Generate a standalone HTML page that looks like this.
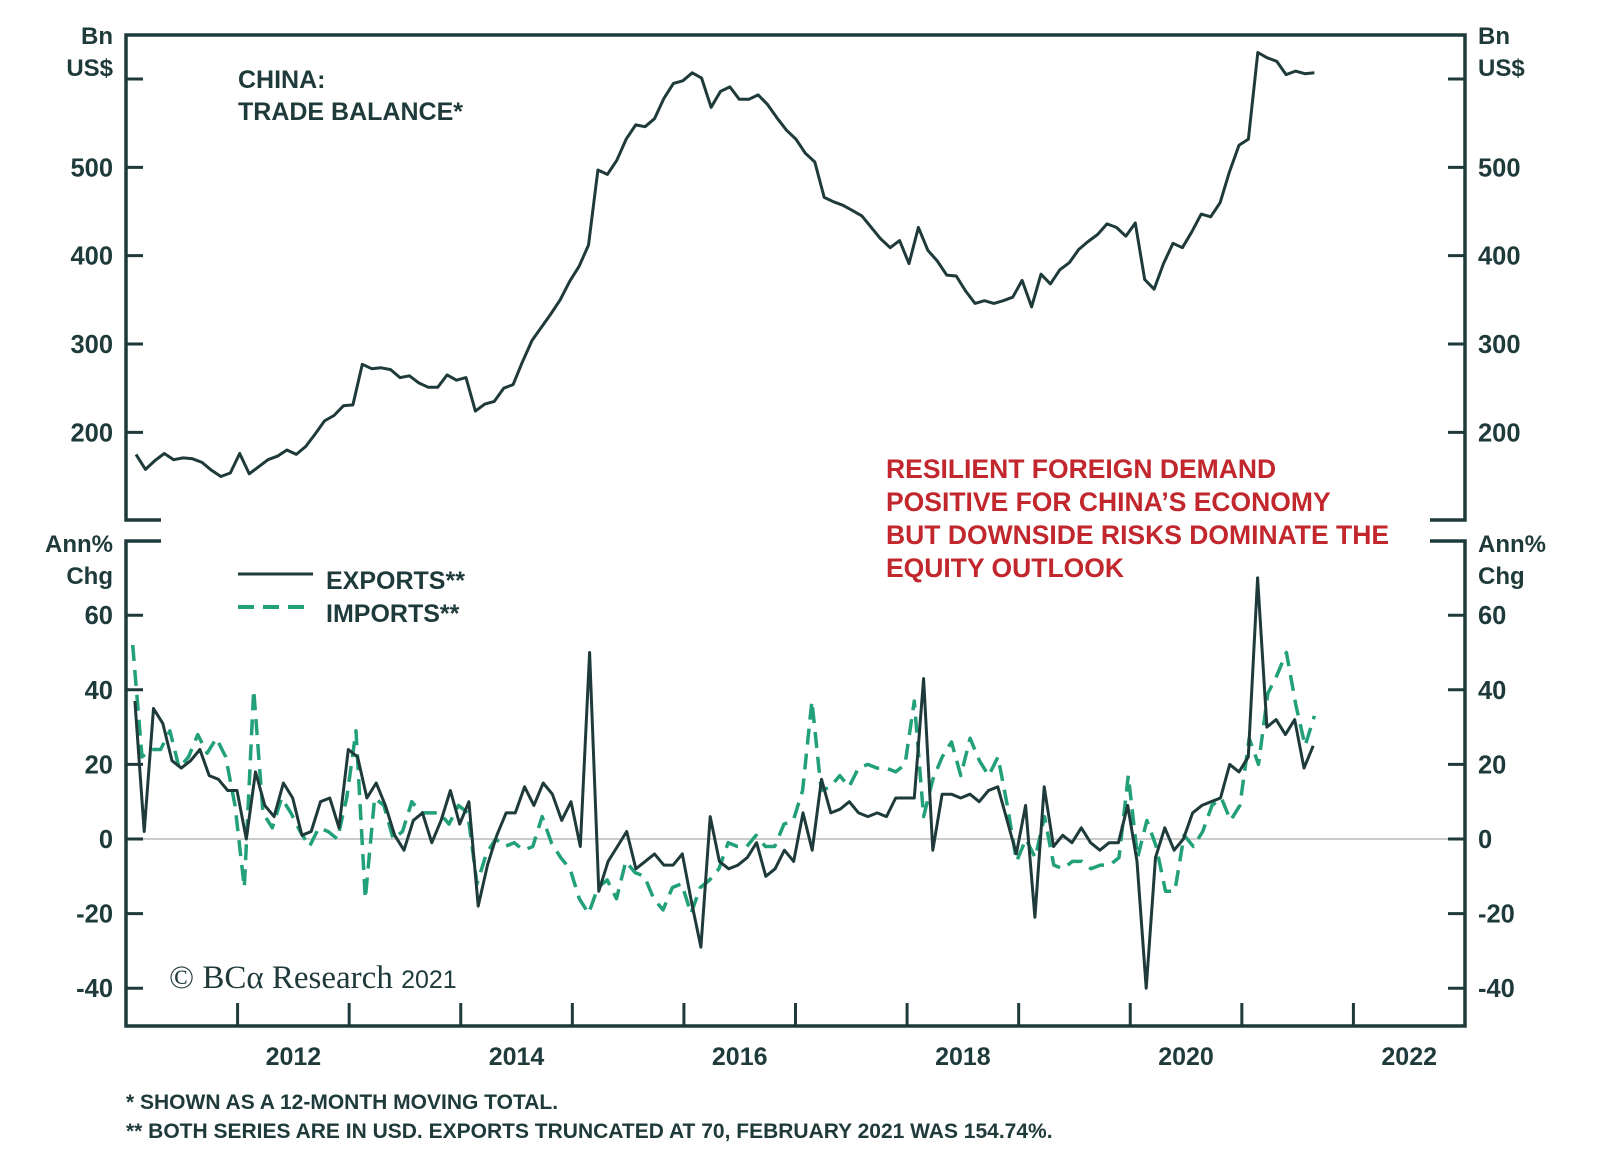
<!DOCTYPE html>
<html><head><meta charset="utf-8"><style>
body{margin:0;background:#fff}
svg{display:block;font-family:"Liberation Sans",Arial,sans-serif;font-weight:bold}
</style></head><body>
<svg id="chart" width="1600" height="1168" viewBox="0 0 1600 1168">
<g id="frame"></g>
<g id="marks"></g>
<g id="labels">
<text x="113" y="44" text-anchor="end" font-size="24" fill="#1f3a3a">Bn</text>
<text x="113" y="76" text-anchor="end" font-size="24" fill="#1f3a3a">US$</text>
<text x="1478" y="44" font-size="24" fill="#1f3a3a">Bn</text>
<text x="1478" y="76" font-size="24" fill="#1f3a3a">US$</text>
<text x="113" y="552" text-anchor="end" font-size="24" fill="#1f3a3a">Ann%</text>
<text x="113" y="584" text-anchor="end" font-size="24" fill="#1f3a3a">Chg</text>
<text x="1478" y="552" font-size="24" fill="#1f3a3a">Ann%</text>
<text x="1478" y="584" font-size="24" fill="#1f3a3a">Chg</text>
<text x="238" y="88" font-size="25" fill="#1f3a3a">CHINA:</text>
<text x="238" y="120" font-size="25" fill="#1f3a3a">TRADE BALANCE*</text>
<g fill="#c1272d" font-size="26.5">
<text x="886" y="478">RESILIENT FOREIGN DEMAND</text>
<text x="886" y="511">POSITIVE FOR CHINA’S ECONOMY</text>
<text x="886" y="544">BUT DOWNSIDE RISKS DOMINATE THE</text>
<text x="886" y="577">EQUITY OUTLOOK</text>
</g>
<line x1="238" y1="574" x2="313" y2="574" stroke="#1f3a3a" stroke-width="3"/>
<text x="326" y="589" font-size="25" fill="#1f3a3a">EXPORTS**</text>
<line x1="238" y1="607" x2="313" y2="607" stroke="#22a07a" stroke-width="4" stroke-dasharray="16,9"/>
<text x="326" y="622" font-size="25" fill="#1f3a3a">IMPORTS**</text>
<text x="169" y="988" font-family="'Liberation Serif',serif" font-weight="normal" font-size="33" fill="#1f3a3a">© BCα Research <tspan font-family="'Liberation Sans',sans-serif" font-size="25">2021</tspan></text>
<text x="126" y="1109" font-size="21" fill="#1f3a3a">*  SHOWN AS A 12-MONTH MOVING TOTAL.</text>
<text x="126" y="1138" font-size="21" fill="#1f3a3a">** BOTH SERIES ARE IN USD. EXPORTS TRUNCATED AT 70, FEBRUARY 2021 WAS 154.74%.</text>
</g>
</svg>
<script>
const tbStart = 2011.09, tbEnd = 2021.65;
const tradeBalance = [175,158,168,176,169,171,170,166,157,150,154,176,153,161,169,173,180,175,184,198,213,219,230,231,277,272,273,271,262,264,256,251,251,265,259,262,224,232,235,250,254,280,304,319,334,350,371,388,412,497,492,508,532,548,546,555,578,595,598,607,601,568,586,591,577,577,582,571,556,542,532,516,506,466,461,457,451,445,432,419,409,417,391,432,406,394,378,377,360,346,349,346,349,353,372,342,379,368,384,392,407,416,424,436,432,422,437,373,362,391,414,409,427,447,444,460,495,525,532,630,624,620,605,609,606,607];
const exStart = 2011.08, exEnd = 2021.64;
const exports = [37,2,35,31,21,19,21,24,17,16,13,13,0,18,9,6,15,11,1,2,10,11,3,24,22,11,15,9,1,-3,5,7,-1,5,13,4,10,-18,-7,1,7,7,14,9,15,12,5,10,-2,50,-14,-6,-2,2,-8,-6,-4,-7,-7,-4,-17,-29,6,-6,-8,-7,-5,-1,-10,-8,-3,-6,7,-3,16,7,8,10,7,6,7,6,11,11,11,43,-3,12,12,11,12,10,13,14,5,-4,9,-21,14,-2,1,-1,3,-1,-3,-1,-1,9,-6,-40,-5,3,-3,0,7,9,10,11,20,18,22,70,30,32,28,32,19,25];
const imStart = 2011.06, imEnd = 2021.65;
const imports = [52,22,24,24,29,19,22,28,23,27,22,9,-13,40,7,3,11,7,2,-2,3,2,0,11,29,-16,11,9,0,2,10,7,7,7,4,9,7,-12,-4,0,-2,-1,-3,-2,6,-1,-5,-8,-16,-20,-13,-11,-16,-6,-9,-10,-16,-19,-13,-12,-20,-13,-11,-8,-1,-2,-2,1,-2,-2,4,5,13,37,13,14,17,14,19,20,19,19,18,20,37,6,16,22,26,17,27,21,17,22,9,-6,0,-5,6,-7,-8,-6,-6,-8,-7,-7,-5,17,-5,5,-2,-14,-14,1,-2,2,9,11,5,9,27,20,39,44,50,36,25,33];
const upperTicks = [200,300,400,500,600];
const upperTickLabels = ["200","300","400","500",""];
const lowerTicks = [-40,-20,0,20,40,60];
const lowerTickLabels = ["-40","-20","0","20","40","60"];
const yearTicks = [2012,2013,2014,2015,2016,2017,2018,2019,2020,2021,2022];
const yearLabels = [2012,2014,2016,2018,2020,2022];

const NS="http://www.w3.org/2000/svg";
const L=126,R=1465,TOP=35,UB=520,LT=541,BOT=1026;
const xs=y=>L+(y-2011)*(R-L)/12;
const yu=v=>79+(600-v)*0.8833;
const yl=v=>839-v*3.73;
const C="#1f3a3a";
function mk(tag,attrs,parent){const e=document.createElementNS(NS,tag);for(const k in attrs)e.setAttribute(k,attrs[k]);parent.appendChild(e);return e;}
const frame=document.getElementById('frame'), marks=document.getElementById('marks'), labels=document.getElementById('labels');

let e;
e=mk('path',{d:`M${L+35},${UB}H${L}V${TOP}H${R}V${UB}H${R-35}`,fill:'none',stroke:C,'stroke-width':3.5},frame);


e=mk('path',{d:`M${L+35},${LT}H${L}V${BOT}H${R}V${LT}H${R-35}`,fill:'none',stroke:C,'stroke-width':3.5},frame);


e=mk('line',{x1:L,x2:R,y1:yl(0),y2:yl(0),stroke:'#b8bcbc','stroke-width':1.5},frame);



upperTicks.forEach((v,i)=>{
  const y=yu(v);
  e=mk('line',{x1:L,x2:L+17,y1:y,y2:y,stroke:C,'stroke-width':3},frame);
  
  
  e=mk('line',{x1:R-17,x2:R,y1:y,y2:y,stroke:C,'stroke-width':3},frame);
  
  
  if(upperTickLabels[i]){
    e=mk('text',{x:113,y:y+9,'text-anchor':'end','font-size':25.5,fill:C},labels);e.textContent=upperTickLabels[i];
    
    
    e=mk('text',{x:1478,y:y+9,'font-size':25.5,fill:C},labels);e.textContent=upperTickLabels[i];
    
    
  }
});
lowerTicks.forEach((v,i)=>{
  const y=yl(v);
  e=mk('line',{x1:L,x2:L+17,y1:y,y2:y,stroke:C,'stroke-width':3},frame);
  
  
  e=mk('line',{x1:R-17,x2:R,y1:y,y2:y,stroke:C,'stroke-width':3},frame);
  
  
  e=mk('text',{x:113,y:y+9,'text-anchor':'end','font-size':25.5,fill:C},labels);e.textContent=lowerTickLabels[i];
  
  
  e=mk('text',{x:1478,y:y+9,'font-size':25.5,fill:C},labels);e.textContent=lowerTickLabels[i];
  
  
});
yearTicks.forEach(yr=>{
  e=mk('line',{x1:xs(yr),x2:xs(yr),y1:BOT,y2:BOT-23,stroke:C,'stroke-width':3},frame);
  
  
});
yearLabels.forEach(yr=>{
  e=mk('text',{x:xs(yr+0.5),y:1065,'text-anchor':'middle','font-size':25,fill:C},labels);e.textContent=yr;
  
  
});

function pts(arr,s,en,yf){const n=arr.length;return arr.map((v,i)=>xs(s+(en-s)*i/(n-1)).toFixed(1)+','+yf(v).toFixed(1)).join(' ');}
e=mk('polyline',{points:pts(imports,imStart,imEnd,yl),fill:'none',stroke:'#22a07a','stroke-width':3.5,'stroke-dasharray':'16,9','stroke-linejoin':'round'},marks);


e=mk('polyline',{points:pts(exports,exStart,exEnd,yl),fill:'none',stroke:C,'stroke-width':3,'stroke-linejoin':'round'},marks);


e=mk('polyline',{points:pts(tradeBalance,tbStart,tbEnd,yu),fill:'none',stroke:C,'stroke-width':3,'stroke-linejoin':'round'},marks);


</script>
</body></html>
